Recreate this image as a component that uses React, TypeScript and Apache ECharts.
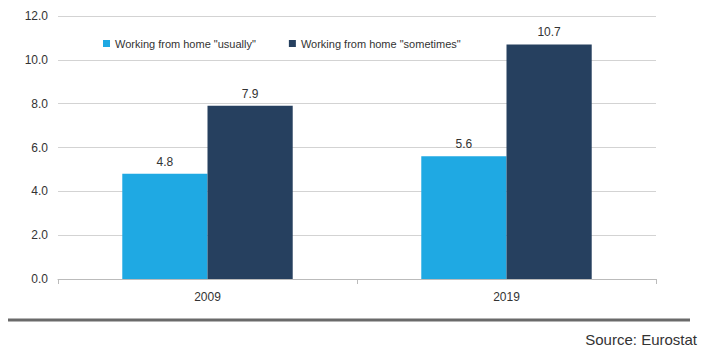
import React, { useEffect, useRef } from "react";
import * as echarts from "echarts";

const categories = ["2009", "2019"];
const usually = [4.8, 5.6];
const sometimes = [7.9, 10.7];
const seriesNames = ['Working from home "usually"', 'Working from home "sometimes"'];
const sourceText = "Source: Eurostat";

const FONT = "'Liberation Sans Narrow', 'Arial Narrow', 'Liberation Sans', Arial, sans-serif";

export default function App() {
  const ref = useRef<HTMLDivElement>(null);
  useEffect(() => {
    document.body.style.margin = "0";
    const chart = echarts.init(ref.current!, undefined, { renderer: "svg" });
    const lbl = {
      show: true,
      position: "top",
      fontFamily: FONT,
      fontSize: 12,
      color: "#333",
      distance: 6,
      formatter: (p: any) => Number(p.value).toFixed(1),
    };
    chart.setOption({
      animation: false,
      backgroundColor: "#ffffff",
      textStyle: { fontFamily: FONT },
      grid: { left: 58, right: 49, top: 16, bottom: 77, containLabel: false },
      legend: {
        top: 33,
        left: 98,
        itemWidth: 7,
        itemHeight: 7,
        itemGap: 33,
        itemStyle: {},
        icon: "rect",
        textStyle: { fontFamily: FONT, fontSize: 11, color: "#333" },
        data: seriesNames,
      },
      xAxis: {
        type: "category",
        data: categories,
        axisLine: { show: true, lineStyle: { color: "#bbbbbb", width: 1 } },
        axisTick: { show: true, length: 5, lineStyle: { color: "#bbbbbb" } },
        axisLabel: { fontFamily: FONT, fontSize: 12, color: "#333", margin: 12 },
      },
      yAxis: {
        type: "value",
        min: 0,
        max: 12,
        interval: 2,
        axisLine: { show: false },
        axisTick: { show: false },
        axisLabel: {
          fontFamily: FONT,
          fontSize: 12,
          color: "#333",
          margin: 10,
          formatter: (v: number) => v.toFixed(1),
        },
        splitLine: { lineStyle: { color: "#d3d3d3", width: 1 } },
      },
      series: [
        {
          name: seriesNames[0],
          type: "bar",
          data: usually,
          barWidth: "28.5%",
          barGap: "0%",
          itemStyle: { color: "#1fa9e3" },
          label: lbl,
        },
        {
          name: seriesNames[1],
          type: "bar",
          data: sometimes,
          barWidth: "28.5%",
          barGap: "0%",
          itemStyle: { color: "#26405f" },
          label: lbl,
        },
      ],
      graphic: [
        {
          type: "line",
          shape: { x1: 8, y1: 320, x2: 690, y2: 320 },
          style: { stroke: "#6a6a6a", lineWidth: 3 },
        },
        {
          type: "text",
          right: 8,
          top: 332,
          style: { text: sourceText, fontFamily: FONT, fontSize: 15, fill: "#333" },
        },
      ],
    });
    return () => chart.dispose();
  }, []);
  return <div ref={ref} style={{ width: 705, height: 356 }} />;
}
